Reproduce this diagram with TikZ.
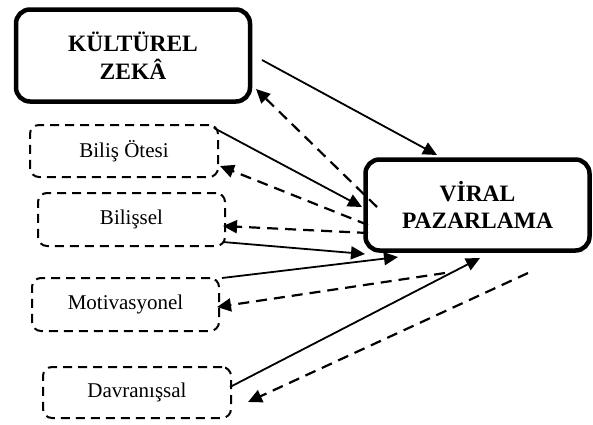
\documentclass[tikz,border=0pt]{standalone}
\usepackage{fontspec}
\setmainfont{Liberation Serif}
\usetikzlibrary{arrows.meta}
\begin{document}
\begin{tikzpicture}[x=1pt,y=-1pt,
  mainbox/.style={draw, line width=4.5pt, rounded corners=14pt, fill=white,
    font=\fontsize{23.5}{27.5}\selectfont\bfseries, align=center, inner sep=0pt},
  subbox/.style={draw, dash pattern=on 9pt off 6pt, line width=2pt, rounded corners=9pt,
    font=\fontsize{21}{25}\selectfont, inner sep=0pt},
  conn/.style={line width=1.8pt, -{Triangle[length=14pt,width=13pt]}},
  back/.style={line width=2.2pt, dash pattern=on 11pt off 7pt, -{Triangle[length=14pt,width=13pt]}}]
\useasboundingbox (0,0) rectangle (593,424);
% nodes
\node[mainbox, minimum width=234pt, minimum height=92pt] (kz) at (133,55.5) {KÜLTÜREL\\ZEKÂ};
\node[mainbox, minimum width=224pt, minimum height=91pt] (vp) at (477.5,205) {VİRAL\\PAZARLAMA};
\node[subbox, minimum width=188pt, minimum height=52pt] (bo) at (124,151) {Biliş Ötesi};
\node[subbox, minimum width=187pt, minimum height=53pt] (bi) at (131.5,219.5) {Bilişsel};
\node[subbox, minimum width=187pt, minimum height=53pt] (mo) at (125.5,304.5) {Motivasyonel};
\node[subbox, minimum width=188pt, minimum height=51pt] (da) at (137,392.5) {Davranışsal};
% connector end points
\coordinate (kzA) at (262,60);   \coordinate (vpA) at (437,155);
\coordinate (vpB) at (377,207);  \coordinate (kzB) at (256,89);
\coordinate (boA) at (214,128);  \coordinate (vpC) at (362,207);
\coordinate (vpD) at (368,225);  \coordinate (boB) at (220,166);
\coordinate (vpE) at (368,233);  \coordinate (biA) at (223,226);
\coordinate (biB) at (223,242);  \coordinate (vpF) at (365,254);
\coordinate (moA) at (222,278);  \coordinate (vpG) at (398,257);
\coordinate (vpH) at (445,273);  \coordinate (moB) at (217,307);
\coordinate (daA) at (230,387);  \coordinate (vpI) at (480,258);
\coordinate (vpJ) at (528,273);  \coordinate (daB) at (248,402);
% connectors
\draw[conn] (kzA) -- (vpA);
\draw[back] (vpB) -- (kzB);
\draw[conn] (boA) -- (vpC);
\draw[back] (vpD) -- (boB);
\draw[back] (vpE) -- (biA);
\draw[conn] (biB) -- (vpF);
\draw[conn] (moA) -- (vpG);
\draw[back] (vpH) -- (moB);
\draw[conn] (daA) -- (vpI);
\draw[back] (vpJ) -- (daB);
\end{tikzpicture}
\end{document}
